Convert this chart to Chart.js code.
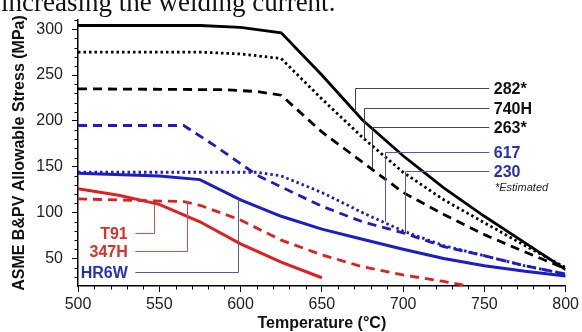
<!DOCTYPE html>
<html>
<head>
<meta charset="utf-8">
<script src="https://cdn.jsdelivr.net/npm/chart.js@4.4.1/dist/chart.umd.min.js"></script>
<style>
  html, body { margin: 0; padding: 0; background: #fff; }
  #wrap { position: relative; width: 582px; height: 332px; overflow: hidden; }
  #caption {
    position: absolute; left: 1px; top: -10.6px;
    font: 27px "Liberation Serif", "Times New Roman", serif;
    line-height: 27px; color: #111; white-space: nowrap;
  }
  canvas { position: absolute; left: 0; top: 0; }
</style>
</head>
<body>
<div id="wrap">
  <canvas id="stressChart" width="582" height="332"></canvas>
  <div id="caption">increasing the welding current.</div>
</div>
<script>
// Allowable stress (MPa) vs temperature (°C)
const temps282 = [500, 575, 600, 625, 650, 675, 700, 725, 750, 775, 800];
const stress282 = [304, 304, 302, 296, 250, 201, 162, 127, 96, 67, 38];

const temps740H = [500, 575, 600, 625, 650, 675, 700, 725, 750, 775, 800];
const stress740H = [275, 275, 273, 268, 224, 182, 144, 114, 89, 64, 40];

const temps263 = [500, 590, 610, 625, 650, 675, 700, 725, 750, 775, 800];
const stress263 = [235, 234, 232, 228, 188, 155, 122, 98, 76, 57, 39];

const temps617 = [500, 565, 585, 610, 625, 650, 675, 700, 725, 750, 775, 800];
const stress617 = [195, 195, 172, 141, 128, 107, 90, 78, 63, 53, 42, 33];

const temps230 = [500, 610, 625, 650, 675, 700, 725, 750, 775, 800];
const stress230 = [144, 144, 140, 122, 100, 80, 64, 53, 42, 33];

const tempsHR6W = [500, 550, 575, 600, 625, 650, 675, 700, 725, 750, 775, 800];
const stressHR6W = [143, 140, 136, 114, 96, 82, 71, 60, 50, 42, 36, 31];

const tempsT91 = [500, 525, 550, 575, 600, 625, 650];
const stressT91 = [126, 119, 109, 90, 66, 46, 29];

const temps347H = [500, 565, 575, 600, 625, 650, 675, 700, 725, 740];
const stress347H = [115, 112, 108, 92, 70, 54, 41, 32, 25, 20];

const xTicks = [500, 550, 600, 650, 700, 750, 800];
const yTicks = [50, 100, 150, 200, 250, 300];

// leader labels: text, where the text sits (T,S), elbow temperature, curve value it points to
const labelsRight = [
    { text: '282*', s: 236, elbow: 670.7, target: 210, color: '#111', line: '#444' },
    { text: '740H', s: 214, elbow: 675.9, target: 181, color: '#111', line: '#444' },
    { text: '263*', s: 193, elbow: 680.7, target: 148, color: '#111', line: '#444' },
    { text: '617', s: 166.4, elbow: 688.8, target: 90, color: '#2a2fb0', line: '#5656aa' },
    { text: '230', s: 145.7, elbow: 701.4, target: 77.5, color: '#2a2fb0', line: '#5656aa' }
];
const labelsLeft = [
    { text: 'T91', s: 78, elbow: 546.9, target: 110, color: '#d8302a', line: '#c85050' },
    { text: '347H', s: 58.5, elbow: 566.9, target: 112, color: '#d8302a', line: '#c85050' },
    { text: 'HR6W', s: 35.6, elbow: 598.6, target: 115, color: '#2a2fb8', line: '#5656aa' }
];

const BLACK = '#000000';
const BLUE = '#1c1cc8';
const RED = '#e21f1f';

function pts(t, v) {
    return t.map((x, i) => ({ x: x, y: v[i] }));
}

function series(t, v, color, width, dash) {
    return {
        data: pts(t, v),
        borderColor: color,
        borderWidth: width,
        borderDash: dash,
        borderCapStyle: 'butt',
        pointRadius: 0,
        tension: 0,
        fill: false
    };
}

const minorTicks = {
    id: 'minorTicks',
    afterDraw(chart) {
        const ctx = chart.ctx;
        const xs = chart.scales.x, ys = chart.scales.y;
        ctx.save();
        ctx.strokeStyle = '#000';
        ctx.lineWidth = 1;
        ctx.beginPath();
        for (let v = 510; v < 800; v += 10) {
            if (v % 50 === 0) continue;
            const px = Math.round(xs.getPixelForValue(v)) + 0.5;
            ctx.moveTo(px, xs.top);
            ctx.lineTo(px, xs.top + 3.5);
        }
        for (let v = 30; v <= 310; v += 10) {
            if (v % 50 === 0) continue;
            const py = Math.round(ys.getPixelForValue(v)) + 0.5;
            ctx.moveTo(ys.right, py);
            ctx.lineTo(ys.right - 3.5, py);
        }
        ctx.stroke();
        ctx.restore();
    }
};

const leaders = {
    id: 'leaders',
    afterDatasetsDraw(chart) {
        const ctx = chart.ctx;
        const xs = chart.scales.x, ys = chart.scales.y;
        ctx.save();
        ctx.lineWidth = 1;
        ctx.textBaseline = 'middle';

        labelsRight.forEach(a => {
            const ex = Math.round(xs.getPixelForValue(a.elbow)) + 0.5;
            const ly = Math.round(ys.getPixelForValue(a.s)) + 0.5;
            ctx.strokeStyle = a.line;
            ctx.beginPath();
            ctx.moveTo(ex, ys.getPixelForValue(a.target));
            ctx.lineTo(ex, ly);
            ctx.lineTo(xs.getPixelForValue(753), ly);
            ctx.stroke();
            ctx.fillStyle = a.color;
            ctx.font = 'bold 16px "Liberation Sans", Arial, sans-serif';
            ctx.textAlign = 'left';
            ctx.fillText(a.text, xs.getPixelForValue(755.8), ly + 1);
        });

        ctx.fillStyle = '#222';
        ctx.font = 'italic 11px "Liberation Sans", Arial, sans-serif';
        ctx.fillText('*Estimated', xs.getPixelForValue(756.5), ys.getPixelForValue(126.5));

        labelsLeft.forEach(a => {
            const ex = Math.round(xs.getPixelForValue(a.elbow)) + 0.5;
            const ly = Math.round(ys.getPixelForValue(a.s)) + 0.5;
            ctx.strokeStyle = a.line;
            ctx.beginPath();
            ctx.moveTo(xs.getPixelForValue(535.3), ly);
            ctx.lineTo(ex, ly);
            ctx.lineTo(ex, ys.getPixelForValue(a.target));
            ctx.stroke();
            ctx.fillStyle = a.color;
            ctx.font = 'bold 16px "Liberation Sans", Arial, sans-serif';
            ctx.textAlign = 'right';
            ctx.fillText(a.text, xs.getPixelForValue(530.6), ly + 1);
        });
        ctx.restore();
    }
};

const ctx = document.getElementById('stressChart').getContext('2d');
new Chart(ctx, {
    type: 'line',
    data: {
        datasets: [
            series(temps347H, stress347H, RED, 2.8, [9, 6]),
            series(tempsT91, stressT91, RED, 3, []),
            series(tempsHR6W, stressHR6W, BLUE, 3, []),
            series(temps230, stress230, BLUE, 2.8, [2.5, 3]),
            series(temps617, stress617, BLUE, 2.8, [9, 6]),
            series(temps263, stress263, BLACK, 2.8, [9, 6]),
            series(temps740H, stress740H, BLACK, 2.8, [2.5, 3]),
            series(temps282, stress282, BLACK, 2.8, [])
        ]
    },
    options: {
        responsive: false,
        animation: false,
        layout: { padding: { left: 0, right: 11, top: 20, bottom: 0 } },
        plugins: {
            legend: { display: false },
            tooltip: { enabled: false }
        },
        scales: {
            x: {
                type: 'linear',
                min: 500,
                max: 800,
                afterBuildTicks: s => { s.ticks = xTicks.map(v => ({ value: v })); },
                afterFit: s => { s.height = 46; },
                ticks: {
                    color: '#222',
                    padding: 3,
                    maxRotation: 0,
                    font: { family: '"Liberation Sans", Arial, sans-serif', size: 16 }
                },
                grid: { drawOnChartArea: false, drawTicks: true, tickLength: 6, color: '#000', lineWidth: 1 },
                border: { color: '#000', width: 1.5 },
                title: {
                    display: true,
                    text: 'Temperature (°C)',
                    color: '#111',
                    padding: 0,
                    font: { family: '"Liberation Sans", Arial, sans-serif', size: 16, weight: 'bold', lineHeight: 1.1 }
                }
            },
            y: {
                type: 'linear',
                min: 20,
                max: 310,
                afterBuildTicks: s => { s.ticks = yTicks.map(v => ({ value: v })); },
                afterFit: s => { s.width = 78; },
                ticks: {
                    color: '#222',
                    padding: 9,
                    font: { family: '"Liberation Sans", Arial, sans-serif', size: 16 }
                },
                grid: { drawOnChartArea: false, drawTicks: true, tickLength: 6, color: '#000', lineWidth: 1 },
                border: { color: '#000', width: 1.5 },
                title: {
                    display: true,
                    text: 'ASME B&PV Allowable Stress (MPa)',
                    color: '#111',
                    padding: { top: 10, bottom: 0 },
                    font: { family: '"Liberation Sans", Arial, sans-serif', size: 16, weight: 'bold' }
                }
            }
        }
    },
    plugins: [minorTicks, leaders]
});
</script>
</body>
</html>
